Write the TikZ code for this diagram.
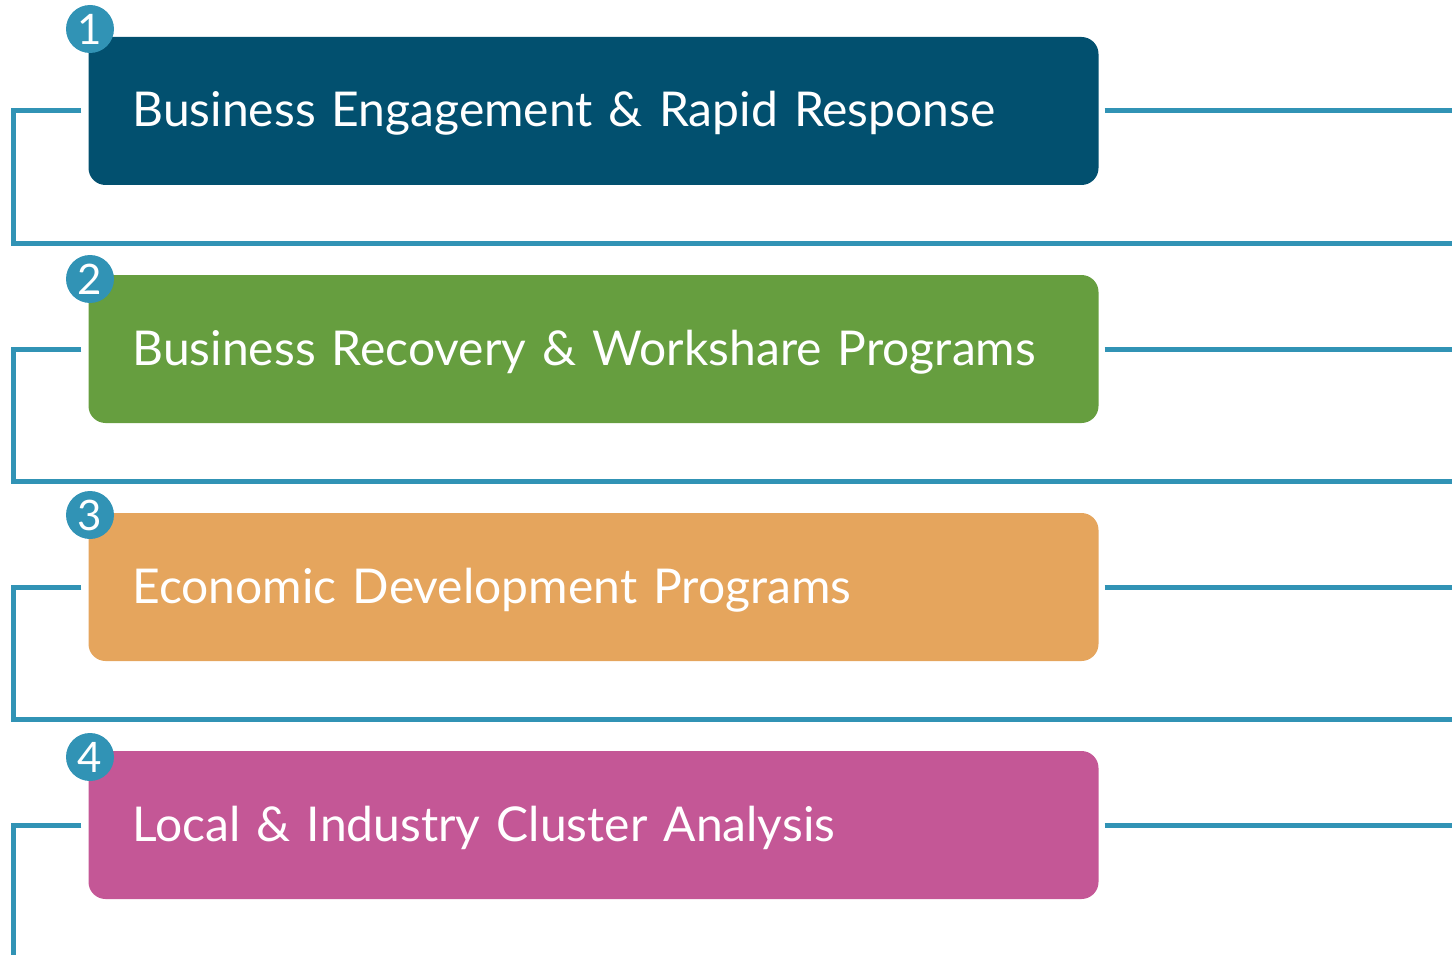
\documentclass[tikz,border=0pt]{standalone}
\usepackage{fontspec}
\setmainfont{Lato}
\usetikzlibrary{positioning}

\definecolor{linkblue}{HTML}{3193B5}
\definecolor{stepnavy}{HTML}{02506F}
\definecolor{stepgreen}{HTML}{669E3F}
\definecolor{steporange}{HTML}{E5A55D}
\definecolor{steppink}{HTML}{C45796}

\tikzset{
  stepbox/.style={rectangle, rounded corners=17pt, minimum height=148pt,
    text width=922pt, inner xsep=44pt, align=left, text=white,
    text height=40pt, text depth=8pt,
    font=\fontsize{48}{58}\selectfont},
  numdot/.style={circle, fill=linkblue, minimum size=48pt, inner sep=0pt,
    text=white, font=\fontsize{42}{44}\selectfont},
  link/.style={draw=linkblue, line width=5pt}
}

\begin{document}
\begin{tikzpicture}[x=1pt, y=-1pt]
\useasboundingbox (0,0) rectangle (1452,955); % page size

\node[stepbox, fill=stepnavy]   (box1) at (593.5,111) {\mbox{Business Engagement \& Rapid Response}};
\node[stepbox, fill=stepgreen]  (box2) at (593.5,349) {\mbox{Business Recovery \& Workshare Programs}};
\node[stepbox, fill=steporange] (box3) at (593.5,587) {\mbox{Economic Development Programs}};
\node[stepbox, fill=steppink]   (box4) at (593.5,825) {\mbox{Local \& Industry Cluster Analysis}};

\node[numdot] (num1) at (90,29)  {1};
\node[numdot] (num2) at (90,279) {2};
\node[numdot] (num3) at (90,515) {3};
\node[numdot] (num4) at (90,757) {4};

% side rails
\coordinate (rail1) at (1452,243.5);
\coordinate (rail2) at (1452,481.5);
\coordinate (rail3) at (1452,719.5);
\coordinate (rail4) at (13.5,955);

\draw[link] ([xshift=-7pt]box1.west) -| ([xshift=13.5pt]rail1 -| 0,0) -- (rail1);
\draw[link] ([xshift=-7pt]box2.west) -| ([xshift=13.5pt]rail2 -| 0,0) -- (rail2);
\draw[link] ([xshift=-7pt]box3.west) -| ([xshift=13.5pt]rail3 -| 0,0) -- (rail3);
\draw[link] ([xshift=-7pt]box4.west) -| (rail4);

\draw[link] ([xshift=6pt]box1.east) -- (box1.east -| rail1);
\draw[link] ([xshift=6pt]box2.east) -- (box2.east -| rail1);
\draw[link] ([xshift=6pt]box3.east) -- (box3.east -| rail1);
\draw[link] ([xshift=6pt]box4.east) -- (box4.east -| rail1);
\end{tikzpicture}
\end{document}
